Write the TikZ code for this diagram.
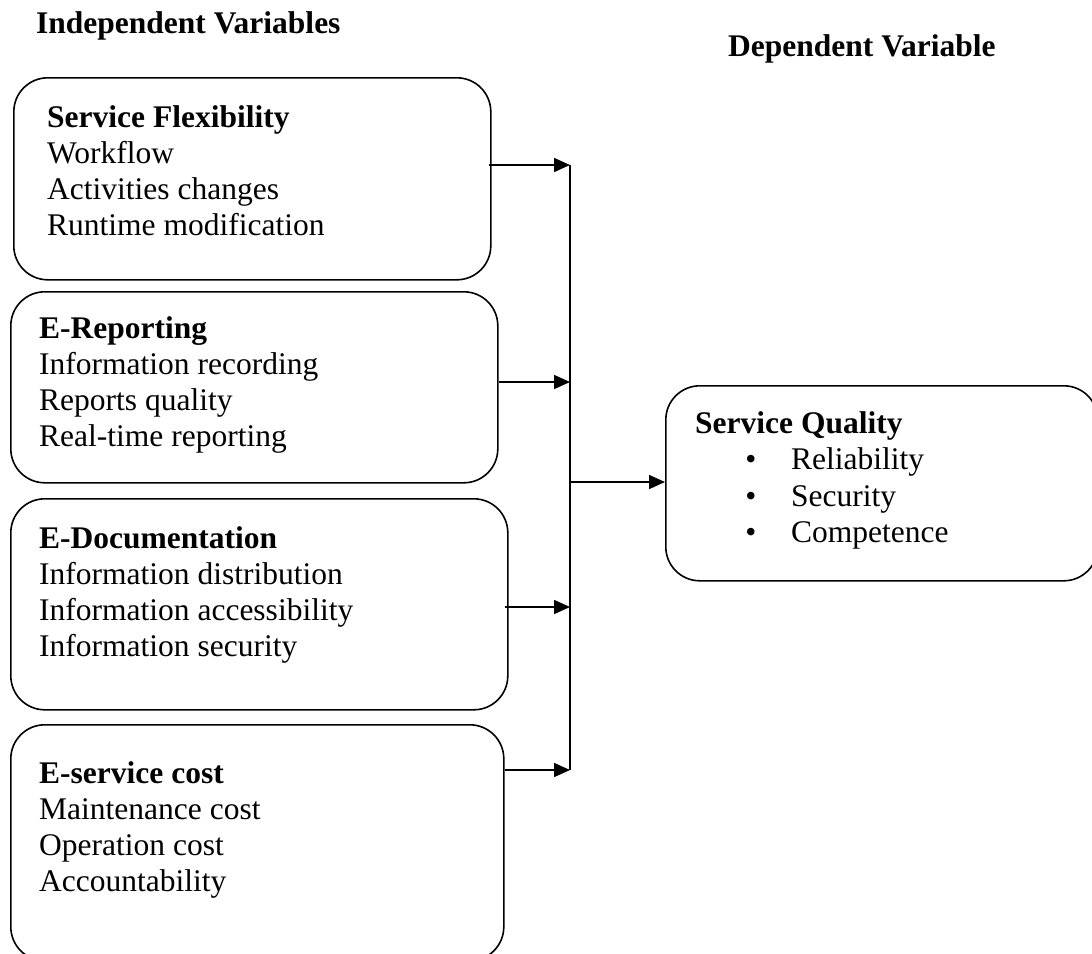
\documentclass[tikz,border=0pt]{standalone}
\usepackage{fontspec}
\setmainfont{Liberation Serif}
\usetikzlibrary{arrows.meta}
\begin{document}
\begin{tikzpicture}[x=1pt,y=-1pt,
  every node/.style={font=\fontsize{31.5}{36}\selectfont, inner sep=0pt},
  box/.style={draw, line width=1.6pt, rounded corners=34pt, anchor=north west},
  txt/.style={anchor=base west},
  hd/.style={anchor=base west, font=\fontsize{31.5}{36}\selectfont\bfseries},
  arr/.style={line width=1.6pt, -{Triangle[length=16pt,width=14pt]}},
  trunk/.style={line width=2pt}]
\fill[white] (0,0) rectangle (1092,953);
\path[use as bounding box] (0,0) rectangle (1092,953);

% headings
\node[hd] (hind) at (36,33) {Independent Variables};
\node[hd] (hdep) at (728,56) {Dependent Variable};

% boxes
\node[box, minimum width=477pt, minimum height=202pt] (b1) at (13,77) {};
\node[box, minimum width=487pt, minimum height=191pt] (b2) at (10,291) {};
\node[box, minimum width=497pt, minimum height=211pt] (b3) at (10,498) {};
\node[box, minimum width=493pt, minimum height=236pt] (b4) at (10,724) {};
\node[box, minimum width=432pt, minimum height=195pt] (sq) at (665,385) {};

% box 1 text
\node[hd] (b1h) at (47,127) {Service Flexibility};
\foreach \t [count=\i from 1] in {Workflow, Activities changes, Runtime modification}
  \node[txt] (b1t\i) at (47,127+36*\i) {\t};

% box 2 text
\node[hd] (b2h) at (39,338) {E-Reporting};
\foreach \t [count=\i from 1] in {Information recording, Reports quality, Real-time reporting}
  \node[txt] (b2t\i) at (39,338+36*\i) {\t};

% box 3 text
\node[hd] (b3h) at (39,548) {E-Documentation};
\foreach \t [count=\i from 1] in {Information distribution, Information accessibility, Information security}
  \node[txt] (b3t\i) at (39,548+36*\i) {\t};

% box 4 text
\node[hd] (b4h) at (39,783) {E-service cost};
\foreach \t [count=\i from 1] in {Maintenance cost, Operation cost, Accountability}
  \node[txt] (b4t\i) at (39,783+36*\i) {\t};

% service quality text
\node[hd] (sqh) at (695,433) {Service Quality};
\foreach \t [count=\i from 1] in {Reliability, Security, Competence}{
  \node[anchor=base] (sqb\i) at (751,433+36.5*\i) {\textbullet};
  \node[txt] (sqt\i) at (791,433+36.5*\i) {\t};
}

% connectors
\coordinate (vtop) at (570,165);
\coordinate (j2) at (570,382);
\coordinate (jm) at (570,482);
\coordinate (j3) at (570,607);
\coordinate (vbot) at (570,770);
\draw[trunk] (vtop) -- (vbot);
\draw[arr] ([xshift=-3pt]b1.east |- vtop) -- (vtop);
\draw[arr] (b2.east |- j2) -- (j2);
\draw[arr] ([xshift=-4pt]b3.east |- j3) -- (j3);
\draw[arr] (b4.east |- vbot) -- (vbot);
\draw[arr] (jm) -- (sq.west |- jm);
\end{tikzpicture}
\end{document}
